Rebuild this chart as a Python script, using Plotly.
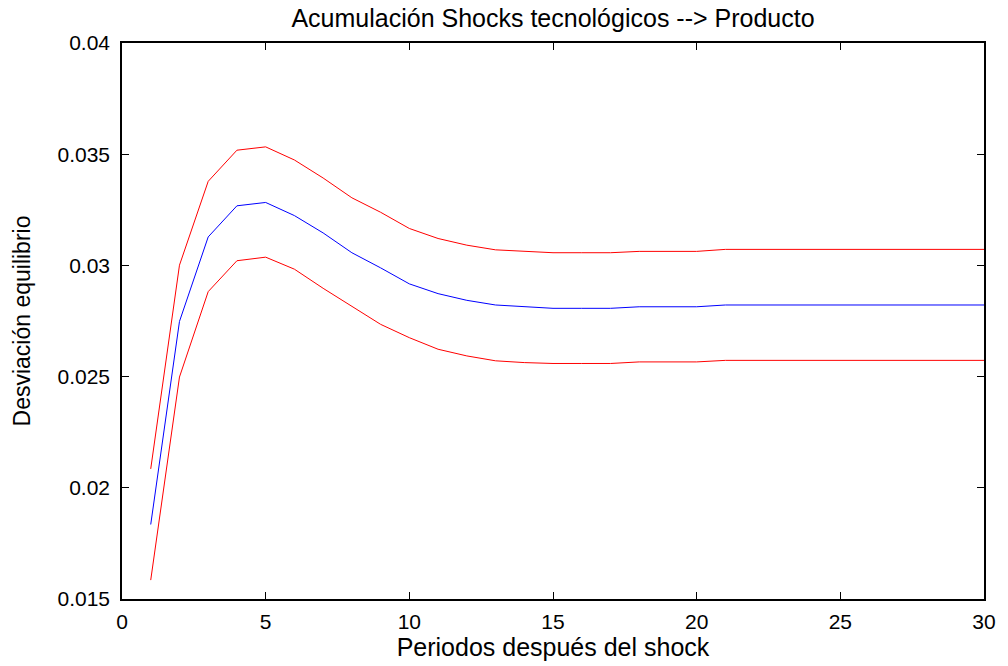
import plotly.graph_objects as go

# Periods after the shock
periodos = list(range(1, 31))

# Accumulated output response (central estimate)
respuesta = [0.01835, 0.02748, 0.03128, 0.03268, 0.03283, 0.03224, 0.03146, 0.03057,
             0.02989, 0.02917, 0.02873, 0.02843, 0.02822, 0.02814, 0.02807, 0.02807,
             0.02807, 0.02814, 0.02814, 0.02814, 0.02822, 0.02822, 0.02822, 0.02822,
             0.02822, 0.02822, 0.02822, 0.02822, 0.02822, 0.02822]

# Upper confidence band
banda_sup = [0.02085, 0.03001, 0.03378, 0.03518, 0.03533, 0.03474, 0.03393, 0.03304,
             0.03239, 0.03166, 0.03121, 0.03091, 0.03070, 0.03064, 0.03057, 0.03057,
             0.03057, 0.03063, 0.03063, 0.03063, 0.03072, 0.03072, 0.03072, 0.03072,
             0.03072, 0.03072, 0.03072, 0.03072, 0.03072, 0.03072]

# Lower confidence band
banda_inf = [0.01585, 0.02498, 0.02882, 0.03021, 0.03037, 0.02983, 0.02897, 0.02814,
             0.02735, 0.02675, 0.02623, 0.02593, 0.02571, 0.02563, 0.02559, 0.02559,
             0.02559, 0.02566, 0.02566, 0.02566, 0.02573, 0.02573, 0.02573, 0.02573,
             0.02573, 0.02573, 0.02573, 0.02573, 0.02573, 0.02573]

x_ticks = [0, 5, 10, 15, 20, 25, 30]
y_ticks = [0.015, 0.02, 0.025, 0.03, 0.035, 0.04]
y_tick_text = ["0.015", "0.02", "0.025", "0.03", "0.035", "0.04"]

fig = go.Figure()
fig.add_trace(go.Scatter(x=periodos, y=banda_sup, mode="lines",
                         line=dict(color="#ff0000", width=1), showlegend=False))
fig.add_trace(go.Scatter(x=periodos, y=respuesta, mode="lines",
                         line=dict(color="#0000ff", width=1), showlegend=False))
fig.add_trace(go.Scatter(x=periodos, y=banda_inf, mode="lines",
                         line=dict(color="#ff0000", width=1), showlegend=False))

font_family = "Liberation Sans, Arial, sans-serif"

fig.update_layout(
    width=1008, height=666,
    margin=dict(l=122, r=15, t=43, b=63),
    paper_bgcolor="white", plot_bgcolor="white",
    font=dict(family=font_family, color="black", size=20),
    title=dict(text="Acumulación Shocks tecnológicos --> Producto",
               x=0.5, xref="paper", y=0.972, yref="container",
               xanchor="center", yanchor="middle",
               font=dict(size=25, family=font_family, color="black")),
)

fig.update_xaxes(
    range=[0, 30], tickvals=x_ticks, ticks="inside", ticklen=7, tickwidth=1,
    tickcolor="black", showline=True, linecolor="black", linewidth=1.5,
    mirror="ticks", showgrid=False, zeroline=False,
    tickfont=dict(size=21), ticklabelstandoff=3,
    title=dict(text="Periodos después del shock", font=dict(size=25), standoff=4),
)
fig.update_yaxes(
    range=[0.015, 0.04], tickvals=y_ticks, ticktext=y_tick_text, ticks="inside",
    ticklen=7, tickwidth=1, tickcolor="black", showline=True, linecolor="black",
    linewidth=1.5, mirror="ticks", showgrid=False, zeroline=False,
    tickfont=dict(size=21), ticklabelstandoff=6,
    title=dict(text="Desviación equilibrio", font=dict(size=23), standoff=20),
)

fig.write_html("out.html")
